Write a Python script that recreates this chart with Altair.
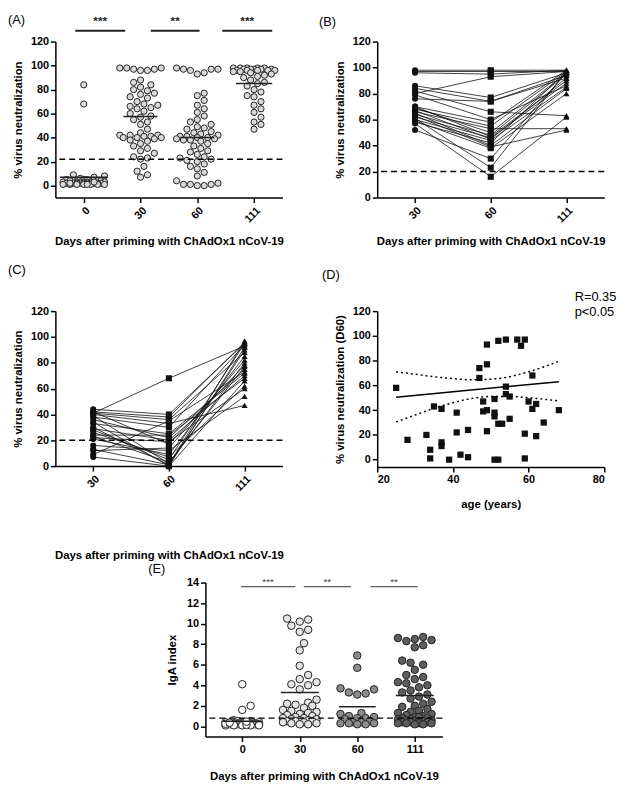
import altair as alt
import pandas as pd

FONT = "Liberation Sans"
XTITLE = "Days after priming with ChAdOx1 nCoV-19"

# ---------------- Panel A : % virus neutralization by day ----------------
a_days = ["0", "30", "60", "111"]
a_day0 = [84, 68, 9, 8, 7, 6, 5, 5, 5, 4, 4, 4, 4, 3, 3, 3, 3, 3, 3, 3, 2, 2, 2, 2, 2,
          2, 2, 2, 2, 2, 1, 1, 1, 1, 1, 1, 1, 1, 2, 3]
a_day30 = [98, 98, 98, 97, 97, 96, 96, 88, 86, 84, 82, 80, 79, 77, 76, 74, 73, 70, 68, 67,
           66, 65, 64, 62, 60, 58, 57, 55, 53, 51, 47, 44, 42, 42, 42, 41, 41, 40, 40, 40,
           39, 38, 37, 35, 33, 31, 29, 27, 24, 23, 22, 16, 12, 9, 7]
a_day60 = [98, 97, 97, 97, 96, 94, 93, 77, 75, 71, 67, 64, 61, 58, 55, 53, 51, 49, 48, 47,
           45, 44, 43, 42, 41, 41, 40, 40, 39, 39, 38, 38, 37, 35, 33, 31, 29, 28, 26, 24,
           23, 22, 21, 20, 18, 16, 14, 11, 8, 4, 2, 1, 1, 1, 0, 0]
a_day111 = [98, 98, 98, 98, 98, 97, 97, 97, 97, 97, 96, 96, 96, 96, 96, 95, 95, 94, 93, 92,
            91, 90, 88, 86, 85, 83, 80, 78, 75, 74, 70, 67, 64, 61, 57, 53, 51, 47]
a_means = [7, 57.5, 40, 85]
a_mean_half = [0.42, 0.3, 0.3, 0.32]
a_cutoff = [22]
a_sig_start = [-0.15, 1.18, 2.44]
a_sig_end = [0.73, 2.04, 3.32]
a_sig_text = ["***", "**", "***"]

# ---------------- Panel B : paired, day30 >= 50 % ----------------
b_days = ["30", "60", "111"]
b_d30 = [98, 97, 96, 80, 86, 84, 76, 82, 79, 70, 68, 66, 69, 64, 62, 67, 60, 58, 65, 63, 59, 52, 61, 57, 70]
b_d60 = [98, 97, 95, 93, 77, 74, 74, 66, 60, 58, 55, 53, 50, 48, 46, 45, 44, 42, 40, 39, 38, 30, 23, 16, 47]
b_d111 = [98, 97, 98, 97, 96, 94, 92, 63, 86, 98, 97, 53, 96, 95, 88, 92, 85, 97, 84, 52, 80, 96, 97, 62, 90]
b_cutoff = [20]

# ---------------- Panel C : paired, day30 < 50 % ----------------
c_days = ["30", "60", "111"]
c_d30 = [41, 44, 42, 41, 40, 39, 36, 34, 33, 30, 29, 28, 24, 23, 22, 21, 16, 13, 9, 7, 12, 38, 26, 42]
c_d60 = [68, 40, 38, 36, 33, 2, 22, 0, 25, 1, 20, 5, 24, 3, 19, 9, 12, 1, 35, 0, 14, 30, 7, 17]
c_d111 = [93, 95, 96, 88, 47, 80, 75, 92, 72, 97, 70, 95, 68, 77, 60, 85, 54, 90, 73, 66, 82, 94, 62, 78]
c_cutoff = [20]

# ---------------- Panel D : age vs D60 neutralization ----------------
d_age = [25, 28, 33, 34, 34, 35, 37, 37, 37, 39, 41, 41, 42, 44, 44, 47, 47, 48, 48, 49, 49, 49,
         49, 51, 51, 51, 51, 52, 52, 52, 53, 54, 54, 54, 55, 55, 57, 58, 59, 59, 59, 60, 61, 61,
         62, 62, 64, 68]
d_val = [58, 16, 20, 8, 1, 43, 41, 14, 11, 0, 38, 22, 4, 24, 2, 66, 74, 47, 39, 77, 93, 40,
         23, 49, 38, 35, 0, 96, 29, 0, 29, 97, 59, 53, 51, 33, 97, 92, 97, 21, 1, 47, 68, 41,
         45, 19, 30, 40]
d_fit_age = [25, 68]
d_fit_val = [50.5, 63]
d_ci_age = [25, 30, 35, 40, 45, 50, 55, 60, 65, 68]
d_ci_upper = [71, 69, 67, 65.5, 64.5, 65, 67, 71, 76, 79.5]
d_ci_lower = [30.5, 36, 41.5, 46, 49.5, 51, 51, 50, 48.5, 47.5]
d_stats = ["R=0.35", "p<0.05"]

# ---------------- Panel E : IgA index ----------------
e_days = ["0", "30", "60", "111"]
e_day0 = [4.1, 2.0, 1.6, 0.6, 0.5, 0.5, 0.4, 0.4, 0.4, 0.3, 0.3, 0.3, 0.3, 0.3, 0.3, 0.2, 0.2,
          0.2, 0.2, 0.2, 0.2, 0.2, 0.1, 0.1, 0.1, 0.1, 0.1, 0.15, 0.25, 0.35, 0.45]
e_day30 = [10.5, 10.4, 10.2, 9.8, 9.4, 9.2, 8.1, 7.4, 5.9, 5.0, 4.6, 4.3, 4.1, 4.0, 3.6, 2.6,
           2.3, 2.2, 2.1, 2.0, 1.8, 1.6, 1.5, 1.4, 1.3, 1.2, 1.1, 1.0, 0.9, 0.8, 0.8, 0.7, 0.7,
           0.6, 0.6, 0.5, 0.5, 0.5, 0.4, 0.4, 0.3, 0.3, 0.2, 0.2]
e_day60 = [6.9, 5.7, 3.7, 3.6, 3.3, 3.2, 3.1, 1.3, 1.2, 1.0, 0.9, 0.8, 0.8, 0.7, 0.5, 0.4, 0.4,
           0.3, 0.3, 0.3, 0.2, 0.2]
e_day111 = [8.7, 8.6, 8.5, 8.4, 8.3, 7.9, 7.7, 6.4, 6.2, 6.0, 5.5, 5.0, 4.8, 4.6, 4.3, 4.2, 4.0,
            3.8, 3.5, 3.3, 3.1, 2.9, 2.7, 2.4, 2.2, 2.0, 1.9, 1.7, 1.5, 1.4, 1.3, 1.2, 1.1, 1.0,
            0.9, 0.9, 0.8, 0.8, 0.7, 0.7, 0.6, 0.6, 0.5, 0.5, 0.5, 0.4, 0.4, 0.4, 0.3, 0.3, 0.3,
            0.3, 0.2, 0.2]
e_means = [0.5, 3.3, 1.9, 3.0]
e_mean_half = [0.33, 0.33, 0.32, 0.33]
e_cutoff = [0.8]
e_fills = ["#ffffff", "#e4e4e4", "#8c8c8c", "#5e5e5e"]
e_sig_start = [-0.02, 1.07, 2.23]
e_sig_end = [0.92, 1.89, 3.05]
e_sig_text = ["***", "**", "**"]
e_sig_y = [13.6, 13.6, 13.6]

# ---------------- layout constants ----------------
W = 230
HA = 158
HC = 157
HD = 158
HE = 156
WE = 240


def swarm(vals, ypx, d, maxw):
    """Deterministic beeswarm: horizontal pixel offsets so dots do not overlap."""
    order = sorted(range(len(vals)), key=lambda i: vals[i])
    step = d / 2.0
    cands = [0.0]
    k = 1
    while k * step <= maxw:
        cands += [k * step, -k * step]
        k += 1
    placed = []
    offs = [0.0] * len(vals)
    for i in order:
        y = vals[i] * ypx
        chosen = None
        bestc, bestd = 0.0, -1.0
        for c in cands:
            md = min([((c - px) ** 2 + (y - py) ** 2) ** 0.5 for px, py in placed], default=1e9)
            if md >= d * 0.97:
                chosen = c
                break
            if md > bestd:
                bestd, bestc = md, c
        if chosen is None:
            chosen = bestc
        placed.append((chosen, y))
        offs[i] = chosen
    return offs


def label_expr(labels):
    expr = "''"
    for i in reversed(range(len(labels))):
        expr = f"datum.value == {i} ? '{labels[i]}' : ({expr})"
    return expr


def anchor(x, y):
    return alt.Chart(pd.DataFrame({"t": ["."]})).mark_text(
        opacity=0, align="left", baseline="top", fontSize=10
    ).encode(x=alt.value(x), y=alt.value(y), text="t:N")


def ptext(txt, x, y, size=13, weight="normal", align="left"):
    return alt.Chart(pd.DataFrame({"t": [txt]})).mark_text(
        font=FONT, fontSize=size, fontWeight=weight, align=align, baseline="middle", color="black"
    ).encode(x=alt.value(x), y=alt.value(y), text="t:N")


def cat_x(labels, title, pad, angle=315):
    n = len(labels)
    return alt.X(
        "x:Q",
        scale=alt.Scale(domain=[-0.5, n - 0.5], nice=False, zero=False),
        axis=alt.Axis(values=list(range(n)), tickCount=n + 2, labelExpr=label_expr(labels),
                      labelAngle=angle, labelOverlap=False, title=title, titlePadding=pad),
    )


def val_y(domain, values, title, pad=7):
    return alt.Y("value:Q", scale=alt.Scale(domain=domain, nice=False, zero=False),
                 axis=alt.Axis(values=values, tickCount=len(values) + 2, title=title,
                               titlePadding=pad, labelOverlap=False, labelFlush=False))


# ================= Panel A =================
rows = []
for gi, vals in enumerate([a_day0, a_day30, a_day60, a_day111]):
    offs = swarm(vals, HA / 130.0, 7, 22)
    for v, o in zip(vals, offs):
        rows.append({"x": gi + o / (W / 4.0), "value": v})
dfA = pd.DataFrame(rows)
xA = cat_x(a_days, XTITLE, 12)
yA = val_y([-10, 120], list(range(0, 121, 20)), "% virus neutralization")

ptsA = alt.Chart(dfA).mark_circle(size=40, fill="#d9d9d9", stroke="#222222", strokeWidth=1,
                                  opacity=1).encode(x=xA, y=yA)
cutA = alt.Chart(pd.DataFrame({"c": a_cutoff})).mark_rule(
    color="black", strokeDash=[6, 4], strokeWidth=1.5).encode(y="c:Q")
dfAm = pd.DataFrame({"x1": [i - h for i, h in enumerate(a_mean_half)],
                     "x2": [i + h for i, h in enumerate(a_mean_half)], "m": a_means})
meanA = alt.Chart(dfAm).mark_rule(color="#222222", strokeWidth=1.5).encode(
    x="x1:Q", x2="x2:Q", y="m:Q")
dfAs = pd.DataFrame({"s": a_sig_start, "e": a_sig_end, "t": a_sig_text})
sigA = alt.Chart(dfAs).mark_rule(color="#222222", strokeWidth=2).encode(
    x="s:Q", x2="e:Q", y=alt.value(-11))
sigAt = alt.Chart(dfAs).transform_calculate(mid="(datum.s + datum.e) / 2").mark_text(
    font=FONT, fontSize=12, fontWeight="bold", baseline="middle", color="#222222").encode(
    x="mid:Q", y=alt.value(-21), text="t:N")
panelA = alt.layer(ptsA, cutA, meanA, sigA, sigAt, ptext("(A)", -48, -22),
                   anchor(248, 0)).properties(width=W, height=HA)


# ================= Panels B & C (paired lines) =================
def paired_panel(d30, d60, d111, days, cutoff, label, height, title_pad, top_anchor):
    rows = []
    for s, trip in enumerate(zip(d30, d60, d111)):
        for k, v in enumerate(trip):
            rows.append({"subject": s, "x": k, "value": v, "tp": days[k]})
    df = pd.DataFrame(rows)
    xx = cat_x(days, XTITLE, title_pad)
    yy = val_y([0, 120], list(range(0, 121, 20)), "% virus neutralization")
    lines = alt.Chart(df).mark_line(color="#111111", strokeWidth=0.8).encode(
        x=xx, y=yy, detail="subject:N", order="x:Q")
    pts = alt.Chart(df).mark_point(filled=True, color="#111111", opacity=1, size=38).encode(
        x="x:Q", y="value:Q",
        shape=alt.Shape("tp:N", scale=alt.Scale(domain=days,
                                               range=["circle", "square", "triangle-up"]),
                        legend=None))
    cut = alt.Chart(pd.DataFrame({"c": cutoff})).mark_rule(
        color="black", strokeDash=[6, 4], strokeWidth=1.5).encode(y="c:Q")
    return alt.layer(lines, pts, cut, label, anchor(-48, top_anchor), anchor(248, 0)).properties(
        width=W, height=height)


panelB = paired_panel(b_d30, b_d60, b_d111, b_days, b_cutoff, ptext("(B)", -59, -20), HA, 12, -29)
panelC = paired_panel(c_d30, c_d60, c_d111, c_days, c_cutoff, ptext("(C)", -48, -42), HC, 58, -60)

# ================= Panel D =================
dfD = pd.DataFrame({"age": d_age, "value": d_val})
xD = alt.X("age:Q", scale=alt.Scale(domain=[20, 80], nice=False, zero=False),
           axis=alt.Axis(values=[20, 40, 60, 80], tickCount=6, title="age (years)",
                         titlePadding=14, labelOverlap=False))
yD = val_y([-6, 120], list(range(0, 121, 20)), "% virus neutralization (D60)")
ptsD = alt.Chart(dfD).mark_square(size=40, color="#111111", opacity=1).encode(x=xD, y=yD)
fitD = alt.Chart(pd.DataFrame({"age": d_fit_age, "value": d_fit_val})).mark_line(
    color="black", strokeWidth=1.5).encode(x="age:Q", y="value:Q")
ci_rows = [{"age": a, "value": u, "band": "upper"} for a, u in zip(d_ci_age, d_ci_upper)] + \
          [{"age": a, "value": l, "band": "lower"} for a, l in zip(d_ci_age, d_ci_lower)]
ciD = alt.Chart(pd.DataFrame(ci_rows)).mark_line(
    color="black", strokeWidth=1.5, strokeDash=[2, 3], interpolate="monotone").encode(
    x="age:Q", y="value:Q", detail="band:N")
panelD = alt.layer(ptsD, fitD, ciD, ptext("(D)", -56, -37),
                   ptext(d_stats[0], W - 30, -14), ptext(d_stats[1], W - 30, 1),
                   anchor(-59, -64)).properties(width=W, height=HD)

# ================= Panel E =================
rows = []
for gi, vals in enumerate([e_day0, e_day30, e_day60, e_day111]):
    offs = swarm(vals, HE / 15.0, 8.5, 20)
    for v, o in zip(vals, offs):
        rows.append({"x": gi + o / (WE / 4.12), "value": v, "day": e_days[gi]})
dfE = pd.DataFrame(rows)
xE = alt.X("x:Q", scale=alt.Scale(domain=[-0.64, 3.48], nice=False, zero=False),
           axis=alt.Axis(values=[0, 1, 2, 3], tickCount=6, labelExpr=label_expr(e_days),
                         labelAngle=0, labelOverlap=False, title=XTITLE, titlePadding=16))
yE = val_y([-1, 14], list(range(0, 15, 2)), "IgA index", pad=9)
ptsE = alt.Chart(dfE).mark_circle(size=58, stroke="#222222", strokeWidth=1, opacity=1).encode(
    x=xE, y=yE,
    color=alt.Color("day:N", scale=alt.Scale(domain=e_days, range=e_fills), legend=None))
cutE = alt.Chart(pd.DataFrame({"c": e_cutoff})).mark_rule(
    color="black", strokeDash=[6, 4], strokeWidth=1.5).encode(y="c:Q")
dfEm = pd.DataFrame({"x1": [i - h for i, h in enumerate(e_mean_half)],
                     "x2": [i + h for i, h in enumerate(e_mean_half)], "m": e_means})
meanE = alt.Chart(dfEm).mark_rule(color="#222222", strokeWidth=1.5).encode(
    x="x1:Q", x2="x2:Q", y="m:Q")
dfEs = pd.DataFrame({"s": e_sig_start, "e": e_sig_end, "t": e_sig_text, "y": e_sig_y})
sigE = alt.Chart(dfEs).mark_rule(color="#333333", strokeWidth=1).encode(
    x="s:Q", x2="e:Q", y="y:Q")
sigEt = alt.Chart(dfEs).transform_calculate(mid="(datum.s + datum.e) / 2").mark_text(
    font=FONT, fontSize=10, baseline="middle", dy=-5, color="#333333").encode(
    x="mid:Q", y="y:Q", text="t:N")
panelE = alt.layer(ptsE, cutE, meanE, sigE, sigEt, ptext("(E)", -58, -14),
                   anchor(-58, -21)).properties(width=WE, height=HE)

spacer = alt.Chart(pd.DataFrame({"t": ["."]})).mark_text(opacity=0).encode(
    text="t:N").properties(width=94, height=20)

row1 = alt.hconcat(panelA, panelB, spacing=16)
row2 = alt.hconcat(panelC, panelD, spacing=16)
row3 = alt.hconcat(spacer, panelE, spacing=0)
chart = alt.vconcat(row1, row2, row3, spacing=0).configure_view(stroke=None).configure_axis(
    domainColor="black", domainWidth=1.5, tickColor="black", tickWidth=1.5, tickSize=5,
    labelFont=FONT, labelFontSize=11, labelFontWeight="bold", labelColor="black", labelPadding=2,
    labelOverlap=False,
    titleFont=FONT, titleFontSize=11.5, titleFontWeight="bold", titleColor="black", grid=False
).properties(padding=0)

chart.save("out.html", embed_options={"renderer": "svg", "actions": False})
